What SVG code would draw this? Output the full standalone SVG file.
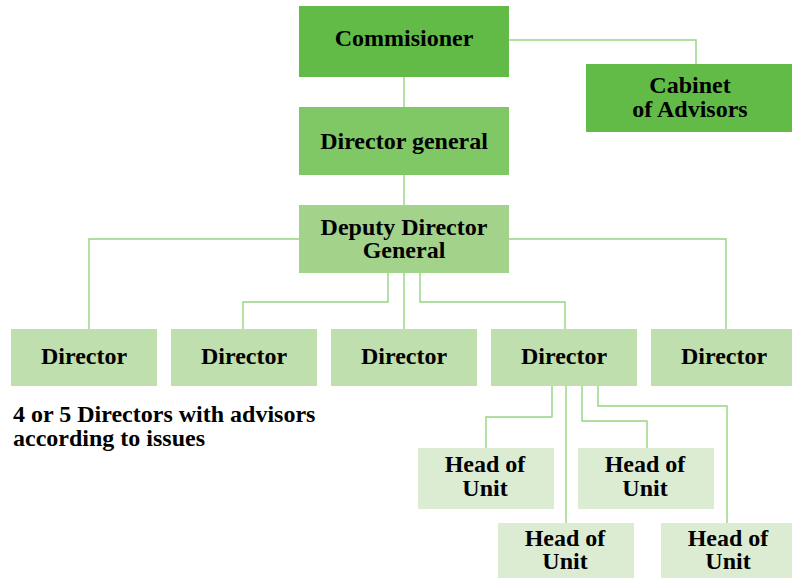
<svg xmlns="http://www.w3.org/2000/svg" width="792" height="578" viewBox="0 0 792 578">
<style>
text{font-family:"Liberation Serif","Times New Roman",serif;font-weight:bold;font-size:24px;fill:#000;text-anchor:middle}
.lft{text-anchor:start}
.c1{fill:#62bb47}
.c2{fill:#80c866}
.c3{fill:#a3d38b}
.c4{fill:#bfe0ae}
.c5{fill:#dcecd3}
#connectors path{fill:none;stroke:#95d47f;stroke-width:1.4}
</style>
<rect width="792" height="578" fill="#fff"/>
<g id="connectors">
<path d="M509,40 H696 V64"/>
<path d="M404,77 V107"/>
<path d="M404,175 V205"/>
<path d="M299,239 H89 V329"/>
<path d="M509,239 H726 V329"/>
<path d="M388,273 V302 H243 V329"/>
<path d="M404,273 V329"/>
<path d="M420,273 V302 H565 V329"/>
<path d="M552,386 V417 H486 V448"/>
<path d="M566,386 V523"/>
<path d="M582,386 V421 H647 V448"/>
<path d="M598,386 V406 H727 V523"/>
</g>
<g id="commissioner"><rect class="c1" x="299" y="6" width="210" height="71"/><text x="404" y="46">Commisioner</text></g>
<g id="cabinet"><rect class="c1" x="586" y="64" width="206" height="68"/><text x="690" y="93">Cabinet</text><text x="690" y="117">of Advisors</text></g>
<g id="director-general"><rect class="c2" x="299" y="107" width="210" height="68"/><text x="404" y="149">Director general</text></g>
<g id="deputy-director-general"><rect class="c3" x="299" y="205" width="210" height="68"/><text x="404" y="235">Deputy Director</text><text x="404" y="258">General</text></g>
<g id="director1"><rect class="c4" x="11" y="329" width="146" height="57"/><text x="84" y="364">Director</text></g>
<g id="director2"><rect class="c4" x="171" y="329" width="146" height="57"/><text x="244" y="364">Director</text></g>
<g id="director3"><rect class="c4" x="331" y="329" width="146" height="57"/><text x="404" y="364">Director</text></g>
<g id="director4"><rect class="c4" x="491" y="329" width="146" height="57"/><text x="564" y="364">Director</text></g>
<g id="director5"><rect class="c4" x="651" y="329" width="146" height="57"/><text x="724" y="364">Director</text></g>
<g id="note"><text class="lft" x="13" y="422">4 or 5 Directors with advisors</text><text class="lft" x="13" y="446">according to issues</text></g>
<g id="head1"><rect class="c5" x="418" y="448" width="136" height="61"/><text x="485" y="472">Head of</text><text x="485" y="496">Unit</text></g>
<g id="head2"><rect class="c5" x="578" y="448" width="136" height="61"/><text x="645" y="472">Head of</text><text x="645" y="496">Unit</text></g>
<g id="head3"><rect class="c5" x="498" y="523" width="136" height="55"/><text x="565" y="546">Head of</text><text x="565" y="569">Unit</text></g>
<g id="head4"><rect class="c5" x="661" y="523" width="136" height="55"/><text x="728" y="546">Head of</text><text x="728" y="569">Unit</text></g>
</svg>
